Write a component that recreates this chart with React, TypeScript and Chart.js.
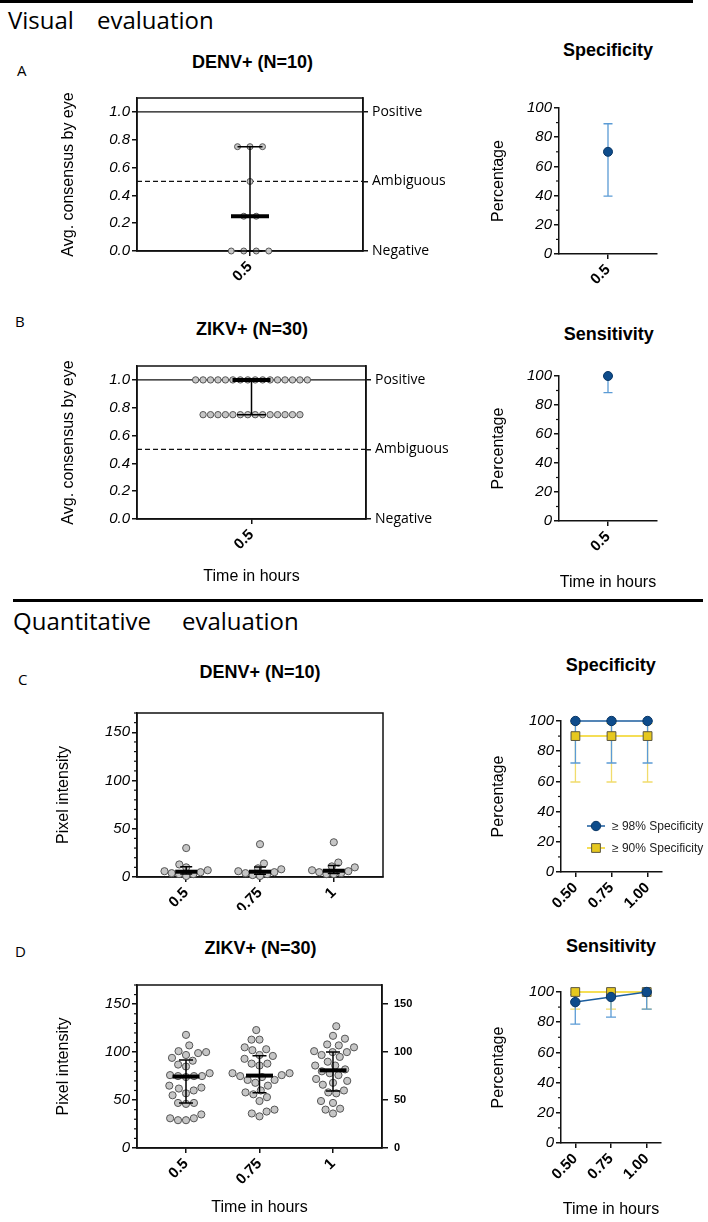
import React, { useEffect, useRef } from 'react';
import { Chart, registerables } from 'chart.js';

Chart.register(...registerables);

const SANS = "'Liberation Sans', Arial, Helvetica, sans-serif";
const HUM = "'Open Sans', 'Noto Sans', sans-serif";
Chart.defaults.font.family = SANS;
Chart.defaults.color = '#000';

// ---------------- data ----------------
const VIS_TIMES = [0.5];
const VIS_TIME_LABELS = ['0.5'];
const VIS_Y_TICKS = [0, 0.2, 0.4, 0.6, 0.8, 1.0];
const CALL_LEVELS = [0, 0.5, 1.0];
const CALL_LABELS = ['Negative', 'Ambiguous', 'Positive'];

const DENV_EYE = [0, 0, 0, 0, 0.25, 0.25, 0.5, 0.75, 0.75, 0.75];
const ZIKV_EYE = [
  1, 1, 1, 1, 1, 1, 1, 1, 1, 1, 1, 1, 1, 1, 1, 1,
  0.75, 0.75, 0.75, 0.75, 0.75, 0.75, 0.75, 0.75, 0.75, 0.75, 0.75, 0.75, 0.75, 0.75,
];

const EYE_SPECIFICITY = [70];
const EYE_SPECIFICITY_LOW = [39.7];
const EYE_SPECIFICITY_HIGH = [89.2];
const EYE_SENSITIVITY = [100];
const EYE_SENSITIVITY_LOW = [88.6];
const EYE_SENSITIVITY_HIGH = [100];

const PIX_TIME_LABELS = ['0.5', '0.75', '1'];
const DENV_PIX_05 = [30, 13, 10, 7, 6, 5, 4, 3, 3, 1];
const DENV_PIX_075 = [34, 14, 9, 8, 6, 5, 4, 3, 2, 1];
const DENV_PIX_1 = [36, 15, 11, 10, 7, 6, 5, 4, 3, 3];
const ZIKV_PIX_05 = [118, 107, 101, 100, 99, 97, 94, 91, 87, 85, 78, 76, 75, 75, 75, 74, 65, 63, 62, 60, 57, 55, 47, 47, 46, 35, 31, 31, 29, 29];
const ZIKV_PIX_075 = [123, 113, 113, 105, 103, 102, 97, 96, 93, 88, 88, 86, 78, 78, 76, 75, 74, 71, 71, 68, 65, 60, 58, 56, 53, 49, 40, 38, 36, 33];
const ZIKV_PIX_1 = [127, 117, 114, 108, 107, 105, 101, 100, 100, 97, 95, 90, 86, 86, 82, 80, 78, 76, 72, 70, 68, 66, 60, 58, 57, 49, 47, 41, 40, 36];
const PIX_TICKS = [0, 50, 100, 150];
const PIX_MINOR = [10, 20, 30, 40, 60, 70, 80, 90, 110, 120, 130, 140, 160, 170];

const PCT_TIMES = [0.5, 0.75, 1.0];
const PCT_TICKS = [0, 20, 40, 60, 80, 100];
const PCT_MINOR = [10, 30, 50, 70, 90];

const SPEC98 = [100, 100, 100];
const SPEC98_LOW = [72.2, 72.2, 72.2];
const SPEC98_HIGH = [100, 100, 100];
const SPEC90 = [90, 90, 90];
const SPEC90_LOW = [59.6, 59.6, 59.6];
const SPEC90_HIGH = [98.2, 98.2, 98.2];

const SENS98 = [93.3, 96.7, 100];
const SENS98_LOW = [78.7, 83.3, 88.6];
const SENS98_HIGH = [98.2, 99.4, 100];
const SENS90 = [100, 100, 100];
const SENS90_LOW = [88.6, 88.6, 88.6];
const SENS90_HIGH = [100, 100, 100];

const LEGEND_LABELS = ['\u2265 98% Specificity', '\u2265 90% Specificity'];

// ---------------- styles ----------------
const INK = '#111';
const DOT_FILL = '#c6c6c6';
const DOT_EDGE = '#555';
const BLUE = '#0e4c8b';
const BLUE_EDGE = '#0a3766';
const BLUE_LINE = '#1b5d9e';
const BLUE_ERR = '#5b9bd5';
const YEL = '#e6c81e';
const YEL_EDGE = '#5b5640';
const YEL_LINE = '#f2d31e';
const YEL_ERR = '#f1dc6c';

const F_YTICK = { family: SANS, size: 15, style: 'italic' as const };
const F_XTICK = { family: SANS, size: 15, weight: 'bold' as const };
const F_AXIS = { family: SANS, size: 16 };

type Box = { left: number; top: number; width: number; height: number };
type Plot = { left: number; right: number; top: number; bottom: number };

const COMMON: any = {
  responsive: false,
  maintainAspectRatio: false,
  animation: false,
  devicePixelRatio: 1,
  events: [],
};
const NO_PLUGINS = { legend: { display: false }, tooltip: { enabled: false }, title: { display: false } };

const grid = (len = 5) => ({
  display: true, drawOnChartArea: false, drawTicks: true, tickLength: len,
  tickWidth: 1.5, tickColor: INK, lineWidth: 1.5, color: INK,
});
const border = () => ({ display: true, color: INK, width: 1.5 });

function frameOf(box: Box, plot: Plot) {
  return {
    leftW: plot.left - box.left,
    rightW: box.left + box.width - plot.right,
    topPad: plot.top - box.top,
    bottomH: box.top + box.height - plot.bottom,
  };
}

// ---------------- helpers ----------------
function quant(sorted: number[], p: number) {
  const n = sorted.length;
  const pos = p * (n + 1);
  if (pos <= 1) return sorted[0];
  if (pos >= n) return sorted[n - 1];
  const lo = Math.floor(pos);
  const fr = pos - lo;
  return sorted[lo - 1] + fr * (sorted[lo] - sorted[lo - 1]);
}

function rowSwarm(values: number[], center: number, step: number) {
  const counts = new Map<number, number>();
  values.forEach((v) => counts.set(v, (counts.get(v) || 0) + 1));
  const seen = new Map<number, number>();
  return values.map((v) => {
    const n = counts.get(v)!;
    const k = seen.get(v) || 0;
    seen.set(v, k + 1);
    return center + (k - (n - 1) / 2) * step;
  });
}

// greedy beeswarm with an elliptical keep-out zone (dx horizontal, dy vertical, in px)
function beeswarm(values: number[], center: number, pxX: number, pxY: number, dx0: number, dy0: number) {
  const idx = values.map((_, i) => i).sort((a, b) => values[a] - values[b]);
  const placed: { x: number; y: number }[] = [];
  const xs = new Array(values.length).fill(center);
  const ys = dx0 / dy0; // rescale y so the zone becomes a circle of radius dx0
  const d = dx0;
  let flip = 1;
  for (const i of idx) {
    const y = values[i] * pxY * ys;
    const cands = [0];
    for (const p of placed) {
      const dy = Math.abs(p.y - y);
      if (dy < d) {
        const dx = Math.sqrt(d * d - dy * dy);
        cands.push(p.x + dx + 1e-6, p.x - dx - 1e-6);
      }
    }
    cands.sort((a, b) => Math.abs(a) - Math.abs(b) || (a - b) * flip);
    let best = 0;
    for (const c of cands) {
      if (placed.every((p) => (p.x - c) ** 2 + (p.y - y) ** 2 >= d * d - 1e-3)) { best = c; break; }
    }
    if (best !== 0) flip = -flip;
    placed.push({ x: best, y });
    xs[i] = center + best / pxX;
  }
  return xs;
}

// ---------------- plugins ----------------
const framePlugin = () => ({
  id: 'frame',
  beforeDatasetsDraw(chart: any) {
    const { ctx, chartArea: a } = chart;
    ctx.save();
    ctx.strokeStyle = INK;
    ctx.lineWidth = 1.5;
    ctx.strokeRect(a.left, a.top, a.right - a.left, a.bottom - a.top);
    ctx.restore();
  },
});

const refLinesPlugin = (lines: { v: number; dash: number[] }[]) => ({
  id: 'refLines',
  beforeDatasetsDraw(chart: any) {
    const { ctx, chartArea: a } = chart;
    const ys = chart.scales.y;
    ctx.save();
    ctx.strokeStyle = INK;
    ctx.lineWidth = 1.3;
    for (const l of lines) {
      const y = ys.getPixelForValue(l.v);
      ctx.setLineDash(l.dash);
      ctx.beginPath();
      ctx.moveTo(a.left, y);
      ctx.lineTo(a.right, y);
      ctx.stroke();
    }
    ctx.restore();
  },
});

const statsPlugin = (groups: { x: number; values: number[] }[], medW: number, capW: number) => ({
  id: 'stats',
  afterDatasetsDraw(chart: any) {
    const xs = chart.scales.x;
    const ys = chart.scales.y;
    const ctx = chart.ctx;
    ctx.save();
    ctx.strokeStyle = '#000';
    for (const g of groups) {
      const s = [...g.values].sort((a, b) => a - b);
      const q1 = quant(s, 0.25), med = quant(s, 0.5), q3 = quant(s, 0.75);
      const cx = xs.getPixelForValue(g.x);
      const y1 = ys.getPixelForValue(q1), y3 = ys.getPixelForValue(q3), ym = ys.getPixelForValue(med);
      ctx.lineWidth = 1.5;
      ctx.beginPath();
      ctx.moveTo(cx, y1); ctx.lineTo(cx, y3);
      ctx.moveTo(cx - capW / 2, y1); ctx.lineTo(cx + capW / 2, y1);
      ctx.moveTo(cx - capW / 2, y3); ctx.lineTo(cx + capW / 2, y3);
      ctx.stroke();
      ctx.lineWidth = 4;
      ctx.beginPath();
      ctx.moveTo(cx - medW / 2, ym); ctx.lineTo(cx + medW / 2, ym);
      ctx.stroke();
    }
    ctx.restore();
  },
});

const minorTicksPlugin = (scaleId: string, values: number[], len = 3) => ({
  id: 'minor_' + scaleId,
  afterDraw(chart: any) {
    const s = chart.scales[scaleId];
    const ctx = chart.ctx;
    ctx.save();
    ctx.strokeStyle = INK;
    ctx.lineWidth = 1.2;
    for (const v of values) {
      const p = s.getPixelForValue(v);
      ctx.beginPath();
      if (s.position === 'left') { ctx.moveTo(s.right, p); ctx.lineTo(s.right - len, p); }
      else { ctx.moveTo(s.left, p); ctx.lineTo(s.left + len, p); }
      ctx.stroke();
    }
    ctx.restore();
  },
});

type Series = {
  label: string; xs: number[]; values: number[]; lo: number[]; hi: number[];
  style: string; radius: number; fill: string; edge: string; line: string; err: string;
};

const errorPlugin = (series: Series[], capW: number) => ({
  id: 'errs',
  beforeDatasetsDraw(chart: any) {
    const xs = chart.scales.x, ys = chart.scales.y, ctx = chart.ctx;
    ctx.save();
    ctx.lineWidth = 1.3;
    for (let k = series.length - 1; k >= 0; k--) {
      const s = series[k];
      ctx.strokeStyle = s.err;
      s.xs.forEach((x, j) => {
        const cx = xs.getPixelForValue(x);
        const yl = ys.getPixelForValue(s.lo[j]);
        const yh = ys.getPixelForValue(s.hi[j]);
        ctx.beginPath();
        ctx.moveTo(cx, yl); ctx.lineTo(cx, yh);
        ctx.moveTo(cx - capW / 2, yl); ctx.lineTo(cx + capW / 2, yl);
        ctx.moveTo(cx - capW / 2, yh); ctx.lineTo(cx + capW / 2, yh);
        ctx.stroke();
      });
    }
    ctx.restore();
  },
});

function drawMarker(ctx: CanvasRenderingContext2D, style: string, x: number, y: number, r: number, fill: string, edge: string) {
  ctx.beginPath();
  if (style === 'rect') {
    const h = Math.SQRT1_2 * r;
    ctx.rect(x - h, y - h, 2 * h, 2 * h);
  } else {
    ctx.arc(x, y, r, 0, Math.PI * 2);
  }
  ctx.fillStyle = fill;
  ctx.fill();
  ctx.strokeStyle = edge;
  ctx.lineWidth = 1;
  ctx.stroke();
}

const insideLegendPlugin = (series: Series[], dx: number, dy: number, gap: number) => ({
  id: 'insideLegend',
  afterDatasetsDraw(chart: any) {
    const a = chart.chartArea, ctx = chart.ctx;
    ctx.save();
    series.forEach((s, i) => {
      const y = a.top + dy + i * gap;
      const x0 = a.left + dx;
      ctx.strokeStyle = s.line;
      ctx.lineWidth = 1.5;
      ctx.beginPath(); ctx.moveTo(x0, y); ctx.lineTo(x0 + 18, y); ctx.stroke();
      drawMarker(ctx, s.style, x0 + 9, y, s.radius, s.fill, s.edge);
      ctx.fillStyle = '#222';
      ctx.font = `12px ${SANS}`;
      ctx.textBaseline = 'middle';
      ctx.textAlign = 'left';
      ctx.fillText(s.label, x0 + 25, y + 0.5);
    });
    ctx.restore();
  },
});

// ---------------- configs ----------------
function visualConfig(box: Box, plot: Plot, values: number[], stepPx: number, radius: number,
  medW: number, capW: number, xTitlePad: number | null) {
  const f = frameOf(box, plot);
  const pxPerX = plot.right - plot.left;
  const xs = rowSwarm(values, VIS_TIMES[0], stepPx / pxPerX);
  return {
    type: 'scatter',
    data: {
      datasets: [{
        data: values.map((v, i) => ({ x: xs[i], y: v })),
        pointRadius: radius, pointBackgroundColor: DOT_FILL, pointBorderColor: DOT_EDGE,
        pointBorderWidth: 1, clip: false, yAxisID: 'y', xAxisID: 'x',
      }],
    },
    options: {
      ...COMMON,
      plugins: NO_PLUGINS,
      layout: { padding: { top: f.topPad, left: 0, right: 0, bottom: 0 } },
      scales: {
        x: {
          type: 'linear', position: 'bottom', min: 0, max: 1,
          afterBuildTicks: (ax: any) => { ax.ticks = VIS_TIMES.map((v) => ({ value: v })); },
          afterFit: (ax: any) => { ax.height = f.bottomH; },
          ticks: {
            callback: (v: number) => VIS_TIME_LABELS[VIS_TIMES.indexOf(v)],
            font: F_XTICK, minRotation: 45, maxRotation: 45, padding: 2, autoSkip: false, color: '#000',
          },
          grid: grid(), border: border(),
          title: xTitlePad == null ? { display: false } : {
            display: true, text: 'Time in hours', font: F_AXIS, color: '#000', padding: { top: 0, bottom: xTitlePad },
          },
        },
        y: {
          type: 'linear', position: 'left', min: 0, max: 1.1,
          afterBuildTicks: (ax: any) => { ax.ticks = VIS_Y_TICKS.map((v) => ({ value: v })); },
          afterFit: (ax: any) => { ax.width = f.leftW; },
          ticks: { callback: (v: number) => Number(v).toFixed(1), font: F_YTICK, padding: 2, color: '#000' },
          grid: grid(), border: border(),
          title: { display: true, text: 'Avg. consensus by eye', font: F_AXIS, color: '#000', padding: { top: 18.5, bottom: 0 } },
        },
        y2: {
          type: 'linear', position: 'right', min: 0, max: 1.1,
          afterBuildTicks: (ax: any) => { ax.ticks = CALL_LEVELS.map((v) => ({ value: v })); },
          afterFit: (ax: any) => { ax.width = f.rightW; },
          ticks: {
            callback: (v: number) => CALL_LABELS[CALL_LEVELS.indexOf(v)],
            font: { family: HUM, size: 14 }, padding: 4, color: '#000',
          },
          grid: grid(), border: border(),
        },
      },
    },
    plugins: [
      framePlugin(),
      refLinesPlugin([{ v: CALL_LEVELS[2], dash: [] }, { v: CALL_LEVELS[1], dash: [5, 3] }]),
      statsPlugin([{ x: VIS_TIMES[0], values }], medW, capW),
    ],
  };
}

function pixelConfig(box: Box, plot: Plot, groups: number[][], cx: number, cy: number, radius: number,
  medW: number, capW: number, rightAxis: boolean, xTitlePad: number | null) {
  const f = frameOf(box, plot);
  const xMin = -2 / 3, xMax = 8 / 3, yMax = 170;
  const pxX = (plot.right - plot.left) / (xMax - xMin);
  const pxY = (plot.bottom - plot.top) / yMax;
  const pts: { x: number; y: number }[] = [];
  groups.forEach((vals, gi) => {
    const xs = beeswarm(vals, gi, pxX, pxY, cx, cy);
    vals.forEach((v, i) => pts.push({ x: xs[i], y: v }));
  });
  const scales: any = {
    x: {
      type: 'linear', position: 'bottom', min: xMin, max: xMax,
      afterBuildTicks: (ax: any) => { ax.ticks = PIX_TIME_LABELS.map((_, i) => ({ value: i })); },
      afterFit: (ax: any) => { ax.height = f.bottomH; },
      ticks: {
        callback: (v: number) => PIX_TIME_LABELS[Math.round(v)],
        font: F_XTICK, minRotation: 45, maxRotation: 45, padding: 2, autoSkip: false, color: '#000',
      },
      grid: grid(), border: border(),
      title: xTitlePad == null ? { display: false } : {
        display: true, text: 'Time in hours', font: F_AXIS, color: '#000', padding: { top: 0, bottom: xTitlePad },
      },
    },
    y: {
      type: 'linear', position: 'left', min: 0, max: yMax,
      afterBuildTicks: (ax: any) => { ax.ticks = PIX_TICKS.map((v) => ({ value: v })); },
      afterFit: (ax: any) => { ax.width = f.leftW; },
      ticks: { callback: (v: number) => String(v), font: F_YTICK, padding: 2, color: '#000' },
      grid: grid(), border: border(),
      title: { display: true, text: 'Pixel intensity', font: F_AXIS, color: '#000', padding: { top: 13.5, bottom: 0 } },
    },
  };
  if (rightAxis) {
    scales.y2 = {
      type: 'linear', position: 'right', min: 0, max: yMax,
      afterBuildTicks: (ax: any) => { ax.ticks = PIX_TICKS.map((v) => ({ value: v })); },
      afterFit: (ax: any) => { ax.width = f.rightW; },
      ticks: { callback: (v: number) => String(v), font: { family: SANS, size: 11, weight: 'bold' }, padding: 6, color: '#000' },
      grid: grid(6), border: border(),
    };
  }
  return {
    type: 'scatter',
    data: {
      datasets: [{
        data: pts, pointRadius: radius, pointBackgroundColor: DOT_FILL, pointBorderColor: DOT_EDGE,
        pointBorderWidth: 1, clip: false, yAxisID: 'y', xAxisID: 'x',
      }],
    },
    options: {
      ...COMMON,
      plugins: NO_PLUGINS,
      layout: { padding: { top: f.topPad, left: 0, right: rightAxis ? 0 : f.rightW, bottom: 0 } },
      scales,
    },
    plugins: [
      framePlugin(),
      minorTicksPlugin('y', PIX_MINOR, 3),
      statsPlugin(groups.map((values, i) => ({ x: i, values })), medW, capW),
    ],
  };
}

function pctConfig(box: Box, plot: Plot, xMin: number, xMax: number, xTicks: number[],
  xLabel: (v: number) => string, series: Series[], capW: number, xTitlePad: number | null, legend: boolean) {
  const f = frameOf(box, plot);
  const plugins: any[] = [minorTicksPlugin('y', PCT_MINOR, 3), errorPlugin(series, capW)];
  if (legend) plugins.push(insideLegendPlugin(series, 26, 105, 22));
  return {
    type: 'line',
    data: {
      datasets: series.map((s) => ({
        label: s.label,
        data: s.xs.map((x, i) => ({ x, y: s.values[i] })),
        borderColor: s.line, borderWidth: 1.5, showLine: true,
        pointStyle: s.style, pointRadius: s.radius,
        pointBackgroundColor: s.fill, pointBorderColor: s.edge, pointBorderWidth: 1,
        clip: false, fill: false, tension: 0,
      })),
    },
    options: {
      ...COMMON,
      plugins: NO_PLUGINS,
      layout: { padding: { top: f.topPad, left: 0, right: f.rightW, bottom: 0 } },
      scales: {
        x: {
          type: 'linear', position: 'bottom', min: xMin, max: xMax,
          afterBuildTicks: (ax: any) => { ax.ticks = xTicks.map((v) => ({ value: v })); },
          afterFit: (ax: any) => { ax.height = f.bottomH; },
          ticks: { callback: (v: number) => xLabel(v), font: F_XTICK, minRotation: 45, maxRotation: 45, padding: 2, autoSkip: false, color: '#000' },
          grid: grid(), border: border(),
          title: xTitlePad == null ? { display: false } : {
            display: true, text: 'Time in hours', font: F_AXIS, color: '#000', padding: { top: 0, bottom: xTitlePad },
          },
        },
        y: {
          type: 'linear', position: 'left', min: 0, max: 100,
          afterBuildTicks: (ax: any) => { ax.ticks = PCT_TICKS.map((v) => ({ value: v })); },
          afterFit: (ax: any) => { ax.width = f.leftW; },
          ticks: { callback: (v: number) => String(v), font: F_YTICK, padding: 2, color: '#000' },
          grid: grid(), border: border(),
          title: { display: true, text: 'Percentage', font: F_AXIS, color: '#000', padding: { top: 18.5, bottom: 0 } },
        },
      },
    },
    plugins,
  };
}

const blueSeries = (label: string, xs: number[], values: number[], lo: number[], hi: number[], radius = 4.7): Series => ({
  label, xs, values, lo, hi, style: 'circle', radius, fill: BLUE, edge: BLUE_EDGE, line: BLUE_LINE, err: BLUE_ERR,
});
const yellowSeries = (label: string, xs: number[], values: number[], lo: number[], hi: number[]): Series => ({
  label, xs, values, lo, hi, style: 'rect', radius: 6.2, fill: YEL, edge: YEL_EDGE, line: YEL_LINE, err: YEL_ERR,
});

// ---------------- layout ----------------
const BOX_A: Box = { left: 40, top: 85, width: 420, height: 215 };
const PLOT_A: Plot = { left: 137, right: 363, top: 98, bottom: 251 };
const BOX_B: Box = { left: 40, top: 350, width: 420, height: 250 };
const PLOT_B: Plot = { left: 137, right: 366, top: 366, bottom: 519 };
const BOX_AS: Box = { left: 470, top: 85, width: 230, height: 215 };
const PLOT_AS: Plot = { left: 559, right: 657, top: 108, bottom: 254 };
const BOX_BS: Box = { left: 470, top: 350, width: 230, height: 255 };
const PLOT_BS: Plot = { left: 559, right: 657, top: 376, bottom: 521 };
const BOX_C: Box = { left: 40, top: 700, width: 390, height: 210 };
const PLOT_C: Plot = { left: 137, right: 383, top: 713, bottom: 877 };
const BOX_D: Box = { left: 40, top: 970, width: 390, height: 252 };
const PLOT_D: Plot = { left: 137, right: 382, top: 985, bottom: 1148 };
const BOX_CS: Box = { left: 470, top: 700, width: 238, height: 210 };
const PLOT_CS: Plot = { left: 561, right: 662, top: 721, bottom: 872 };
const BOX_DS: Box = { left: 470, top: 970, width: 238, height: 252 };
const PLOT_DS: Plot = { left: 561, right: 661, top: 992, bottom: 1143 };

const CHARTS: { key: string; box: Box; make: () => any }[] = [
  { key: 'A', box: BOX_A, make: () => visualConfig(BOX_A, PLOT_A, DENV_EYE, 12.5, 3, 38, 25, null) },
  { key: 'B', box: BOX_B, make: () => visualConfig(BOX_B, PLOT_B, ZIKV_EYE, 7.45, 3.2, 38, 29, 13.5) },
  {
    key: 'AS', box: BOX_AS, make: () => pctConfig(BOX_AS, PLOT_AS, 0.25, 0.75, VIS_TIMES, () => VIS_TIME_LABELS[0],
      [blueSeries('Specificity', VIS_TIMES, EYE_SPECIFICITY, EYE_SPECIFICITY_LOW, EYE_SPECIFICITY_HIGH, 4.5)], 9, null, false),
  },
  {
    key: 'BS', box: BOX_BS, make: () => pctConfig(BOX_BS, PLOT_BS, 0.25, 0.75, VIS_TIMES, () => VIS_TIME_LABELS[0],
      [blueSeries('Sensitivity', VIS_TIMES, EYE_SENSITIVITY, EYE_SENSITIVITY_LOW, EYE_SENSITIVITY_HIGH, 4.5)], 9, 12.5, false),
  },
  { key: 'C', box: BOX_C, make: () => pixelConfig(BOX_C, PLOT_C, [DENV_PIX_05, DENV_PIX_075, DENV_PIX_1], 7.4, 8, 3.6, 22, 12, false, null) },
  { key: 'D', box: BOX_D, make: () => pixelConfig(BOX_D, PLOT_D, [ZIKV_PIX_05, ZIKV_PIX_075, ZIKV_PIX_1], 8, 10.5, 3.6, 27, 14, true, 4.5) },
  {
    key: 'CS', box: BOX_CS, make: () => pctConfig(BOX_CS, PLOT_CS, 0.4, 1.1, PCT_TIMES, (v) => v.toFixed(2), [
      blueSeries(LEGEND_LABELS[0], PCT_TIMES, SPEC98, SPEC98_LOW, SPEC98_HIGH),
      yellowSeries(LEGEND_LABELS[1], PCT_TIMES, SPEC90, SPEC90_LOW, SPEC90_HIGH),
    ], 10, null, true),
  },
  {
    key: 'DS', box: BOX_DS, make: () => pctConfig(BOX_DS, PLOT_DS, 0.4, 1.1, PCT_TIMES, (v) => v.toFixed(2), [
      blueSeries(LEGEND_LABELS[0], PCT_TIMES, SENS98, SENS98_LOW, SENS98_HIGH),
      yellowSeries(LEGEND_LABELS[1], PCT_TIMES, SENS90, SENS90_LOW, SENS90_HIGH),
    ], 10, 3, false),
  },
];

function ChartCanvas({ box, make }: { box: Box; make: () => any }) {
  const ref = useRef<HTMLCanvasElement>(null);
  useEffect(() => {
    const chart = new Chart(ref.current as HTMLCanvasElement, make());
    return () => chart.destroy();
  }, []);
  return (
    <canvas ref={ref} width={box.width} height={box.height}
      style={{ position: 'absolute', left: box.left, top: box.top, width: box.width, height: box.height }} />
  );
}

function Txt({ x, base, size, family, weight = 'normal', align = 'left', k, children }:
  { x: number; base: number; size: number; family: string; weight?: string; align?: string; k: number; children: React.ReactNode }) {
  const top = base - size / 2 - k * size;
  const style: React.CSSProperties = {
    position: 'absolute', top, lineHeight: size + 'px', fontSize: size, fontFamily: family,
    fontWeight: weight as any, whiteSpace: 'nowrap', color: '#000',
  };
  if (align === 'center') { style.left = x - 200; style.width = 400; style.textAlign = 'center'; }
  else style.left = x;
  return <div style={style}>{children}</div>;
}

const K_ARIAL = 0.3465;
const K_OPEN = 0.388;

export default function App() {
  return (
    <div style={{ position: 'absolute', left: 0, top: 0, width: 708, height: 1222, background: '#fff', overflow: 'hidden' }}>
      <div style={{ position: 'absolute', left: 0, top: 0, width: 693, height: 3, background: '#000' }} />
      <div style={{ position: 'absolute', left: 13, top: 599, width: 690, height: 3, background: '#000' }} />

      <Txt x={8} base={29.3} size={24} family={HUM} k={K_OPEN}>Visual</Txt>
      <Txt x={97} base={29.3} size={24} family={HUM} k={K_OPEN}>evaluation</Txt>
      <Txt x={13} base={630.7} size={24} family={HUM} k={K_OPEN}>Quantitative</Txt>
      <Txt x={182} base={630.7} size={24} family={HUM} k={K_OPEN}>evaluation</Txt>

      <Txt x={17} base={76.5} size={15} family={HUM} k={K_OPEN}>A</Txt>
      <Txt x={15} base={327.5} size={15} family={HUM} k={K_OPEN}>B</Txt>
      <Txt x={18} base={685.5} size={15} family={HUM} k={K_OPEN}>C</Txt>
      <Txt x={15} base={957} size={15} family={HUM} k={K_OPEN}>D</Txt>

      <Txt x={252.5} base={68.3} size={18} family={SANS} weight="bold" align="center" k={K_ARIAL}>DENV+ (N=10)</Txt>
      <Txt x={608} base={56.2} size={18} family={SANS} weight="bold" align="center" k={K_ARIAL}>Specificity</Txt>
      <Txt x={252} base={335} size={18} family={SANS} weight="bold" align="center" k={K_ARIAL}>ZIKV+ (N=30)</Txt>
      <Txt x={608.7} base={340.7} size={18} family={SANS} weight="bold" align="center" k={K_ARIAL}>Sensitivity</Txt>
      <Txt x={260} base={678.3} size={18} family={SANS} weight="bold" align="center" k={K_ARIAL}>DENV+ (N=10)</Txt>
      <Txt x={610.7} base={671.7} size={18} family={SANS} weight="bold" align="center" k={K_ARIAL}>Specificity</Txt>
      <Txt x={260.5} base={954} size={18} family={SANS} weight="bold" align="center" k={K_ARIAL}>ZIKV+ (N=30)</Txt>
      <Txt x={611} base={952.7} size={18} family={SANS} weight="bold" align="center" k={K_ARIAL}>Sensitivity</Txt>

      {CHARTS.map((c) => <ChartCanvas key={c.key} box={c.box} make={c.make} />)}
    </div>
  );
}
